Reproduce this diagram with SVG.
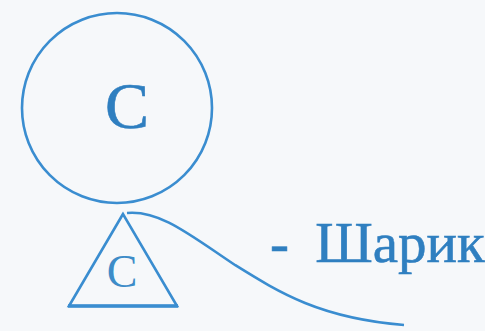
<svg xmlns="http://www.w3.org/2000/svg" width="485" height="331" viewBox="0 0 485 331">
<style>
.ln{fill:none;stroke:#3a8dd0;stroke-width:2.6}
.lb{font-family:"Liberation Serif","DejaVu Serif",serif;fill:#2f7fc0;stroke:#2f7fc0;stroke-width:0.6}
</style>
<rect width="485" height="331" fill="#f6f8fa"/>
<g id="circle">
<circle class="ln" cx="117" cy="108" r="95"/>
<text class="lb" x="127" y="128" font-size="66" text-anchor="middle">C</text>
</g>
<g id="triangle">
<path class="ln" d="M123,214 L69,306 L177,306 Z" stroke-linejoin="miter"/>
<line x1="68" y1="306" x2="178" y2="306" stroke="#3a8dd0" stroke-width="3.5"/>
<text class="lb" x="122" y="287" font-size="46" text-anchor="middle" style="fill:#3d8cc8;stroke:none">C</text>
</g>
<g id="connectors">
<path class="ln" stroke-width="2" d="M127,213 C160,210 190,235 235,265 C280,293 320,318 404,325"/>
</g>
<g id="label">
<text class="lb" x="270" y="262" font-size="57" word-spacing="12">- Шарик</text>
</g>
</svg>
